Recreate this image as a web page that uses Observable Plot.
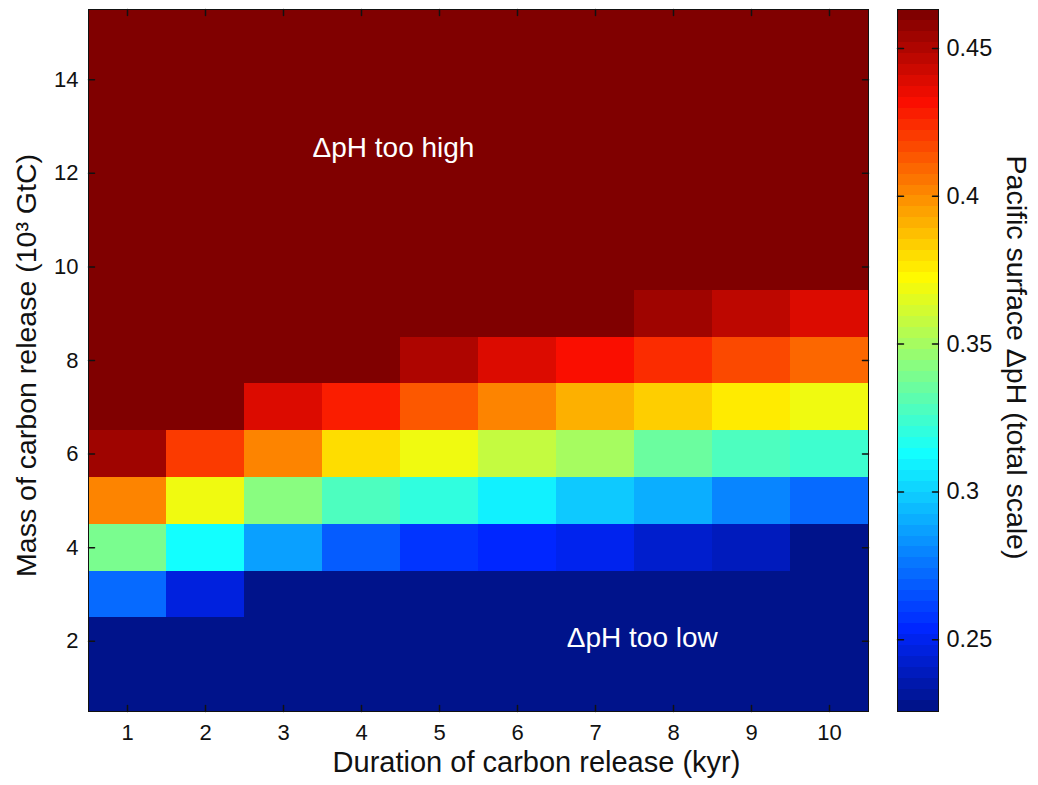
<!DOCTYPE html>
<html>
<head>
<meta charset="utf-8">
<script src="https://cdn.jsdelivr.net/npm/d3@7"></script>
<script src="https://cdn.jsdelivr.net/npm/@observablehq/plot@0.6"></script>
<style>
  body { margin: 0; background: #fff; }
  #chart { position: relative; width: 1038px; height: 785px; background: #fff;
           font-family: "Liberation Sans", Arial, Helvetica, sans-serif; }
  #chart svg { position: absolute; top: 0; }
</style>
</head>
<body>
<div id="chart"></div>
<script>
// Release scenarios: duration (kyr) along x, mass (10^3 GtC) along y
const durations = [1, 2, 3, 4, 5, 6, 7, 8, 9, 10];
const masses = [1, 2, 3, 4, 5, 6, 7, 8, 9, 10, 11, 12, 13, 14, 15];

// Pacific surface ΔpH, one row per mass (1 → 15), one value per duration (1 → 10)
const dpH = [
  [0.100, 0.095, 0.090, 0.086, 0.083, 0.080, 0.078, 0.076, 0.074, 0.072], // 1
  [0.205, 0.195, 0.185, 0.176, 0.168, 0.162, 0.156, 0.151, 0.147, 0.143], // 2
  [0.272, 0.246, 0.222, 0.214, 0.207, 0.201, 0.196, 0.191, 0.187, 0.183], // 3
  [0.339, 0.313, 0.287, 0.268, 0.257, 0.254, 0.250, 0.242, 0.239, 0.228], // 4
  [0.402, 0.369, 0.343, 0.328, 0.320, 0.309, 0.298, 0.291, 0.280, 0.272], // 5
  [0.454, 0.421, 0.402, 0.380, 0.369, 0.357, 0.350, 0.335, 0.328, 0.324], // 6
  [0.490, 0.475, 0.439, 0.428, 0.413, 0.402, 0.391, 0.383, 0.376, 0.369], // 7
  [0.530, 0.510, 0.490, 0.475, 0.450, 0.439, 0.432, 0.424, 0.417, 0.409], // 8
  [0.570, 0.550, 0.530, 0.510, 0.495, 0.480, 0.468, 0.454, 0.447, 0.439], // 9
  [0.610, 0.590, 0.570, 0.550, 0.530, 0.515, 0.500, 0.490, 0.480, 0.470], // 10
  [0.650, 0.630, 0.610, 0.590, 0.570, 0.550, 0.535, 0.520, 0.510, 0.500], // 11
  [0.690, 0.670, 0.650, 0.630, 0.610, 0.590, 0.570, 0.555, 0.540, 0.530], // 12
  [0.730, 0.710, 0.690, 0.670, 0.650, 0.625, 0.605, 0.590, 0.575, 0.560], // 13
  [0.770, 0.750, 0.730, 0.705, 0.685, 0.660, 0.640, 0.620, 0.605, 0.590], // 14
  [0.810, 0.790, 0.765, 0.740, 0.720, 0.695, 0.675, 0.655, 0.635, 0.620]  // 15
];

// Tick values
const xTicks = durations;
const yTicks = [2, 4, 6, 8, 10, 12, 14];
const cbTicks = [0.25, 0.3, 0.35, 0.4, 0.45];

// In-plot annotations
const noteLabels = ["ΔpH too high", "ΔpH too low"];
const noteDuration = [4.41, 7.60];
const noteMass = [12.54, 2.07];

// Texts
const xLabel = "Duration of carbon release (kyr)";
const yLabel = "Mass of carbon release (10³ GtC)";
const cbLabel = "Pacific surface ΔpH (total scale)";

// Colour limits of the colourbar
const vMin = 0.2257, vMax = 0.4632;

// 64-step jet colormap built from its piecewise-linear anchors
const levels = 64;
const jetStops = [
  [1, [0, 19, 139]], [8, [0, 38, 255]], [24, [18, 255, 255]],
  [40, [255, 250, 0]], [56, [250, 14, 0]], [64, [128, 0, 0]]
];
const palette = d3.range(1, levels + 1).map(i => {
  let k = 0;
  while (k < jetStops.length - 2 && i > jetStops[k + 1][0]) k++;
  const [i0, c0] = jetStops[k], [i1, c1] = jetStops[k + 1];
  const f = (i - i0) / (i1 - i0);
  return d3.rgb(...c0.map((c, j) => Math.round(c + (c1[j] - c) * f))).formatHex();
});
const colorScale = {
  type: "linear", domain: [vMin, vMax], clamp: true,
  interpolate: t => palette[Math.max(0, Math.min(levels - 1, Math.floor(t * levels)))]
};

// Inward tick drawn as a short line from the anchor point
const tickShape = { draw(context, l) { context.moveTo(0, 0); context.lineTo(0, -l); } };
const tickLen = 6;
const ink = "#111";
const font = '"Liberation Sans", Arial, Helvetica, sans-serif';

const cells = masses.flatMap((m, j) => durations.map((d, i) => ({ duration: d, mass: m, value: dpH[j][i] })));
const notes = noteLabels.map((label, i) => ({ label, duration: noteDuration[i], mass: noteMass[i] }));

const main = Plot.plot({
  width: 880, height: 785,
  marginLeft: 88, marginRight: 12, marginTop: 9, marginBottom: 74,
  x: { domain: [0.5, 10.5] },
  y: { domain: [0.5, 15.5] },
  color: colorScale,
  style: { fontFamily: font, color: ink, background: "transparent", overflow: "visible" },
  marks: [
    Plot.rect(cells, {
      x1: d => d.duration - 0.5, x2: d => d.duration + 0.5,
      y1: d => d.mass - 0.5, y2: d => d.mass + 0.5,
      fill: "value", shapeRendering: "crispEdges"
    }),
    Plot.text(notes, { x: "duration", y: "mass", text: "label", fill: "white", fontSize: 28 }),
    Plot.frame({ stroke: ink, strokeWidth: 1 }),
    Plot.vector(xTicks, { x: d => d, frameAnchor: "bottom", rotate: 0, length: tickLen, anchor: "start", shape: tickShape, stroke: ink }),
    Plot.vector(xTicks, { x: d => d, frameAnchor: "top", rotate: 180, length: tickLen, anchor: "start", shape: tickShape, stroke: ink }),
    Plot.vector(yTicks, { y: d => d, frameAnchor: "left", rotate: 90, length: tickLen, anchor: "start", shape: tickShape, stroke: ink }),
    Plot.vector(yTicks, { y: d => d, frameAnchor: "right", rotate: -90, length: tickLen, anchor: "start", shape: tickShape, stroke: ink }),
    Plot.axisX({ ticks: xTicks, tickSize: 0, tickPadding: 13, fontSize: 22, label: null, tickFormat: d => String(d) }),
    Plot.axisY({ ticks: yTicks, tickSize: 0, tickPadding: 10, fontSize: 22, label: null, tickFormat: d => String(d) }),
    Plot.text([xLabel], { text: d => d, frameAnchor: "bottom", textAnchor: "middle", dx: 58, dy: 60, fontSize: 29, fill: ink }),
    Plot.text([yLabel], { text: d => d, frameAnchor: "left", textAnchor: "middle", rotate: -90, dx: -62, dy: 5, fontSize: 28.5, fill: ink })
  ]
});
main.style.left = "0px";

// Colourbar: one band per colormap level
const step = (vMax - vMin) / levels;
const bands = d3.range(levels).map(i => ({ lo: vMin + i * step, hi: vMin + (i + 1) * step, mid: vMin + (i + 0.5) * step }));

const bar = Plot.plot({
  width: 158, height: 785,
  marginLeft: 17, marginRight: 100, marginTop: 9, marginBottom: 74,
  x: { domain: [0, 1], axis: null },
  y: { domain: [vMin, vMax] },
  color: colorScale,
  style: { fontFamily: font, color: ink, background: "transparent", overflow: "visible" },
  marks: [
    Plot.rect(bands, { x1: 0, x2: 1, y1: "lo", y2: "hi", fill: "mid", shapeRendering: "crispEdges" }),
    Plot.frame({ stroke: ink, strokeWidth: 1 }),
    Plot.vector(cbTicks, { y: d => d, frameAnchor: "left", rotate: 90, length: tickLen, anchor: "start", shape: tickShape, stroke: ink }),
    Plot.vector(cbTicks, { y: d => d, frameAnchor: "right", rotate: -90, length: tickLen, anchor: "start", shape: tickShape, stroke: ink }),
    Plot.axisY({ anchor: "right", ticks: cbTicks, tickSize: 0, tickPadding: 8, fontSize: 23.5, label: null, tickFormat: d => String(d) }),
    Plot.text([cbLabel], { text: d => d, frameAnchor: "right", textAnchor: "middle", rotate: 90, dx: 78, dy: -3, fontSize: 28.5, fill: ink })
  ]
});
bar.style.left = "880px";

const chart = document.getElementById("chart");
chart.append(main, bar);
</script>
</body>
</html>
